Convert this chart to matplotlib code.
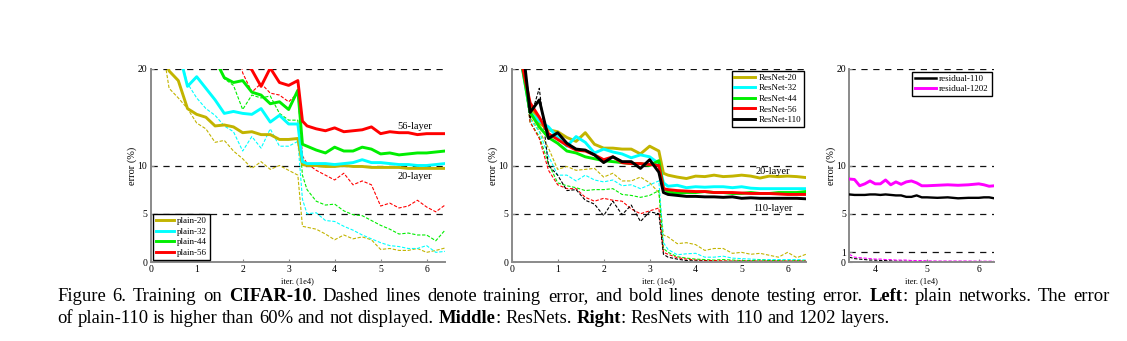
import matplotlib
matplotlib.use("Agg")
import matplotlib.pyplot as plt
from matplotlib.lines import Line2D

plt.rcParams['font.family'] = ['Liberation Serif', 'DejaVu Serif']

# ---------------- data ----------------
ITER = [0.2, 0.4, 0.6, 0.8, 1.0, 1.2, 1.4, 1.6, 1.8, 2.0, 2.2, 2.4, 2.6, 2.8, 3.0, 3.2,
        3.3, 3.4, 3.6, 3.8, 4.0, 4.2, 4.4, 4.6, 4.8, 5.0, 5.2, 5.4, 5.6, 5.8, 6.0, 6.2, 6.4]

# Left: plain networks (test = bold, train = dashed)
plain20_test = [23, 19.8, 18.8, 15.9, 15.3, 15.0, 14.1, 14.2, 14.0, 13.4, 13.5, 13.2, 13.2, 12.7, 12.7, 12.8,
                10.1, 10.0, 10.0, 9.9, 9.9, 10.0, 9.9, 9.9, 9.8, 9.8, 9.8, 9.8, 9.7, 9.7, 9.7, 9.7, 9.7]
plain20_train = [24, 18.0, 17.0, 15.9, 14.4, 13.8, 12.4, 12.6, 11.5, 10.7, 9.7, 10.4, 9.6, 10.0, 9.5, 9.0,
                 3.7, 3.6, 3.4, 2.9, 2.3, 2.8, 2.4, 2.6, 2.3, 1.3, 1.4, 1.2, 1.2, 1.4, 1.0, 1.2, 1.45]
plain32_test = [30, 26, 22, 18.2, 19.2, 18.0, 16.8, 15.4, 15.6, 15.4, 15.3, 15.9, 14.5, 15.2, 14.3, 14.3,
                10.4, 10.2, 10.2, 10.2, 10.1, 10.2, 10.3, 10.6, 10.3, 10.3, 10.2, 10.1, 10.1, 10.0, 10.0, 10.1, 10.2]
plain32_train = [30, 26, 22, 18.5, 17.0, 15.9, 15.2, 14.1, 13.5, 11.5, 13.0, 11.8, 13.8, 12.0, 12.0, 12.5,
                 6.5, 5.0, 5.1, 4.3, 4.2, 3.7, 3.3, 2.8, 2.4, 2.0, 1.7, 1.6, 1.4, 1.4, 1.7, 1.0, 1.1]
plain44_test = [25, 25, 25, 25, 25, 24, 21, 19.1, 18.6, 18.8, 17.6, 17.3, 16.4, 16.6, 15.8, 17.8,
                12.2, 12.0, 11.6, 11.3, 11.9, 11.5, 11.5, 11.9, 11.7, 11.2, 11.3, 11.1, 11.2, 11.3, 11.3, 11.4, 11.5]
plain44_train = [25, 25, 25, 25, 25, 24, 22, 19.0, 18.3, 15.8, 17.3, 17.0, 17.2, 15.4, 14.7, 14.7,
                 9.0, 7.5, 6.3, 5.9, 6.0, 5.3, 4.9, 4.8, 4.3, 3.8, 3.4, 2.9, 3.0, 2.8, 2.8, 2.2, 3.3]
plain56_test = [25, 25, 25, 25, 25, 25, 25, 25, 25, 21, 19.9, 18.2, 20.1, 18.6, 18.3, 18.8,
                14.6, 14.1, 13.8, 13.6, 13.9, 13.5, 13.6, 13.7, 14.0, 13.3, 13.5, 13.4, 13.4, 13.2, 13.3, 13.3, 13.3]
plain56_train = [25, 25, 25, 25, 25, 25, 25, 25, 25, 19.6, 17.6, 18.5, 17.5, 17.3, 16.6, 17.5,
                 11.0, 10.2, 9.5, 9.0, 8.5, 9.2, 8.0, 8.4, 8.0, 5.8, 6.1, 5.6, 5.8, 6.4, 5.7, 5.2, 5.9]

# Middle: ResNets
res20_test = [21, 16.2, 14.4, 13.7, 13.5, 12.9, 12.5, 13.4, 12.2, 11.8, 11.8, 11.7, 11.7, 11.2, 12.0, 11.5,
              9.2, 9.0, 8.8, 8.65, 8.9, 8.85, 9.0, 8.85, 8.9, 9.0, 8.9, 8.7, 8.9, 8.85, 8.9, 8.85, 8.75]
res32_test = [21, 15.5, 14.6, 14.0, 12.9, 12.0, 13.0, 12.4, 11.3, 11.7, 11.4, 11.2, 10.8, 11.1, 10.9, 10.2,
              8.2, 7.85, 7.95, 7.7, 7.8, 7.75, 7.8, 7.8, 7.7, 7.8, 7.65, 7.6, 7.6, 7.6, 7.6, 7.6, 7.6]
res44_test = [21, 15.5, 14.0, 12.9, 12.3, 11.5, 11.3, 10.9, 10.7, 10.5, 10.4, 10.3, 10.2, 10.2, 10.0, 10.5,
              7.6, 7.3, 7.1, 7.2, 7.2, 7.3, 7.2, 7.2, 7.1, 7.1, 7.2, 7.1, 7.1, 7.2, 7.2, 7.2, 7.3]
res56_test = [21, 16.5, 15.0, 13.3, 12.7, 12.1, 11.6, 11.5, 11.1, 10.6, 10.9, 10.3, 10.2, 10.2, 10.1, 10.0,
              7.6, 7.5, 7.4, 7.35, 7.3, 7.3, 7.2, 7.2, 7.2, 7.15, 7.1, 7.1, 7.1, 7.05, 7.0, 7.0, 7.0]
res110_test = [24, 15.5, 16.8, 12.8, 13.4, 12.3, 11.7, 11.6, 11.1, 10.3, 10.9, 10.4, 10.4, 9.7, 10.6, 9.3,
               7.2, 7.0, 6.9, 6.8, 6.8, 6.75, 6.75, 6.7, 6.75, 6.6, 6.65, 6.6, 6.6, 6.6, 6.6, 6.6, 6.55]
res20_train = [22, 15.0, 13.6, 11.8, 9.6, 9.9, 9.5, 9.6, 9.7, 8.8, 9.2, 8.4, 8.4, 8.8, 8.2, 7.2,
               2.8, 2.6, 1.9, 2.0, 1.8, 1.2, 1.4, 1.4, 0.9, 1.0, 0.8, 0.9, 0.7, 0.5, 1.0, 0.45, 0.8]
res32_train = [22, 14.8, 13.5, 11.0, 9.0, 9.0, 8.4, 9.0, 8.5, 8.3, 8.5, 7.9, 8.0, 7.6, 8.0, 8.4,
               2.0, 1.3, 0.75, 0.85, 0.9, 0.5, 0.5, 0.6, 0.4, 0.35, 0.3, 0.25, 0.25, 0.25, 0.25, 0.25, 0.2]
res44_train = [22, 14.5, 13.0, 10.2, 8.2, 7.9, 7.7, 7.4, 7.5, 7.5, 7.6, 7.0, 6.9, 6.7, 6.9, 7.4,
               1.4, 1.0, 0.55, 0.4, 0.3, 0.25, 0.2, 0.25, 0.2, 0.15, 0.15, 0.2, 0.15, 0.15, 0.1, 0.15, 0.1]
res56_train = [22, 14.5, 12.8, 9.5, 8.0, 7.6, 7.6, 6.7, 6.3, 6.6, 6.4, 6.3, 5.5, 5.0, 5.3, 5.6,
               1.0, 0.8, 0.45, 0.3, 0.2, 0.15, 0.15, 0.12, 0.1, 0.1, 0.1, 0.1, 0.1, 0.1, 0.1, 0.1, 0.1]
res110_train = [24, 14.8, 18.0, 10.0, 9.0, 7.4, 7.5, 6.4, 6.0, 4.8, 6.3, 4.9, 5.9, 4.2, 5.2, 5.0,
                0.8, 0.5, 0.3, 0.15, 0.1, 0.08, 0.05, 0.05, 0.05, 0.05, 0.05, 0.05, 0.05, 0.05, 0.05, 0.05, 0.05]

# Right: residual-110 vs residual-1202
ITER_R = [3.5, 3.6, 3.7, 3.8, 3.9, 4.0, 4.1, 4.2, 4.3, 4.4, 4.5, 4.6, 4.7, 4.8, 4.9, 5.0,
          5.2, 5.4, 5.6, 5.8, 6.0, 6.1, 6.2, 6.3]
r110_test = [7.0, 6.95, 6.95, 6.95, 7.0, 7.0, 6.95, 7.0, 6.95, 6.9, 6.9, 6.75, 6.75, 6.9, 6.7, 6.7,
             6.65, 6.7, 6.6, 6.65, 6.65, 6.7, 6.7, 6.6]
r1202_test = [8.6, 8.55, 7.9, 8.1, 8.4, 8.1, 8.1, 8.5, 8.0, 8.3, 8.05, 8.3, 8.4, 8.2, 7.9, 7.9,
              7.95, 8.0, 7.95, 8.0, 8.1, 8.0, 7.85, 7.9]
r110_train = [0.5, 0.35, 0.3, 0.25, 0.2, 0.2, 0.15, 0.15, 0.12, 0.1, 0.1, 0.08, 0.08, 0.06, 0.06, 0.05,
              0.05, 0.05, 0.05, 0.05, 0.05, 0.05, 0.05, 0.05]
r1202_train = [0.8, 0.5, 0.45, 0.4, 0.35, 0.3, 0.3, 0.25, 0.25, 0.2, 0.2, 0.2, 0.15, 0.15, 0.15, 0.12,
               0.1, 0.1, 0.1, 0.1, 0.08, 0.08, 0.08, 0.08]

PLAIN_LABELS = ['plain-20', 'plain-32', 'plain-44', 'plain-56']
RES_LABELS = ['ResNet-20', 'ResNet-32', 'ResNet-44', 'ResNet-56', 'ResNet-110']
RIGHT_LABELS = ['residual-110', 'residual-1202']
YTICKS = [0, 5, 10, 20]
YTICKS_R = [0, 1, 5, 10, 20]
REF_LEVELS = [5, 10, 20]
REF_LEVELS_R = [1, 5, 10, 20]

# ---------------- style ----------------
OLIVE, CYAN, GREEN, RED, BLACK, MAGENTA = '#C2B400', '#00FFFF', '#00EE00', '#FF0000', '#000000', '#FF00FF'
BOLD_LW = 2.1
THIN_LW = 0.8
THIN_DASH = (3, 1.5)
SPINE_C = '#8a8a8a'

fig = plt.figure(figsize=(11.27, 3.41), dpi=100)
W, H = 1127.0, 341.0

def make_ax(left_px, right_px, xlim, xticks, yticks, levels):
    ax = fig.add_axes([left_px / W, (H - 262) / H, (right_px - left_px) / W, (262 - 69) / H])
    ax.set_xlim(*xlim)
    ax.set_ylim(0, 20)
    for s in ['top', 'right']:
        ax.spines[s].set_visible(False)
    for s in ['left', 'bottom']:
        ax.spines[s].set_color(SPINE_C)
        ax.spines[s].set_linewidth(1.4)
    ax.set_xticks(xticks)
    ax.set_yticks(yticks)
    ax.tick_params(direction='in', length=2.5, width=0.8, color=SPINE_C, labelsize=7, pad=2.5)
    for lv in levels:
        ax.axhline(lv, color='#111111', lw=0.9, dashes=(5, 4.5), zorder=1)
    ax.set_ylabel('error (%)', fontsize=7.5, labelpad=0)
    ax.set_xlabel('iter. (1e4)', fontsize=6, labelpad=2)
    return ax

# Left
axL = make_ax(150.7, 445.0, (0, 6.4), [0, 1, 2, 3, 4, 5, 6], YTICKS, REF_LEVELS)
plain_cols = [OLIVE, CYAN, GREEN, RED]
plain_train = [plain20_train, plain32_train, plain44_train, plain56_train]
plain_test = [plain20_test, plain32_test, plain44_test, plain56_test]
for tr, c in zip(plain_train, plain_cols):
    axL.plot(ITER, tr, color=c, lw=THIN_LW, dashes=THIN_DASH, zorder=2)
for te, c in zip(plain_test, plain_cols):
    axL.plot(ITER, te, color=c, lw=BOLD_LW, zorder=3)
axL.text(5.75, 14.0, '56-layer', fontsize=7.5, ha='center', va='center', zorder=4)
axL.text(5.75, 8.85, '20-layer', fontsize=7.5, ha='center', va='center', zorder=4)
handles = [Line2D([], [], color=c, lw=BOLD_LW) for c in plain_cols]
leg = axL.legend(handles, PLAIN_LABELS, loc='lower left', fontsize=6.5, fancybox=False,
                 edgecolor='black', framealpha=1, borderpad=0.3, labelspacing=0.25,
                 handlelength=2.0, handletextpad=0.4, borderaxespad=0.25)
leg.get_frame().set_linewidth(1.0)

# Middle
axM = make_ax(511.7, 806.0, (0, 6.4), [0, 1, 2, 3, 4, 5, 6], YTICKS, REF_LEVELS)
res_cols = [OLIVE, CYAN, GREEN, RED, BLACK]
res_train = [res20_train, res32_train, res44_train, res56_train, res110_train]
res_test = [res20_test, res32_test, res44_test, res56_test, res110_test]
for tr, c in zip(res_train, res_cols):
    axM.plot(ITER, tr, color=c, lw=THIN_LW, dashes=THIN_DASH, zorder=2)
for te, c in zip(res_test, res_cols):
    axM.plot(ITER, te, color=c, lw=BOLD_LW, zorder=3)
axM.text(5.68, 9.4, '20-layer', fontsize=7.5, ha='center', va='center', zorder=4)
axM.text(5.68, 5.5, '110-layer', fontsize=7.5, ha='center', va='center', zorder=4)
handles = [Line2D([], [], color=c, lw=BOLD_LW) for c in res_cols]
leg = axM.legend(handles, RES_LABELS, loc='upper right', fontsize=6.5, fancybox=False,
                 edgecolor='black', framealpha=1, borderpad=0.3, labelspacing=0.25,
                 handlelength=2.3, handletextpad=0.4, borderaxespad=0.2)
leg.get_frame().set_linewidth(1.0)

# Right
axR = make_ax(849.3, 994.3, (3.5, 6.3), [4, 5, 6], YTICKS_R, REF_LEVELS_R)
axR.plot(ITER_R, r110_train, color=BLACK, lw=THIN_LW, dashes=THIN_DASH, zorder=2)
axR.plot(ITER_R, r1202_train, color=MAGENTA, lw=THIN_LW, dashes=THIN_DASH, zorder=2)
axR.plot(ITER_R, r110_test, color=BLACK, lw=1.7, zorder=3)
axR.plot(ITER_R, r1202_test, color=MAGENTA, lw=BOLD_LW, zorder=3)
handles = [Line2D([], [], color=BLACK, lw=1.8), Line2D([], [], color=MAGENTA, lw=BOLD_LW)]
leg = axR.legend(handles, RIGHT_LABELS, loc='upper right', fontsize=6.5, fancybox=False,
                 edgecolor='black', framealpha=1, borderpad=0.3, labelspacing=0.25,
                 handlelength=2.3, handletextpad=0.4, borderaxespad=0.3)
leg.get_frame().set_linewidth(1.0)

# ---------------- caption (justified first line) ----------------
LINE1 = [("Figure 6. Training on ", False), ("CIFAR-10", True),
         (". Dashed lines denote training error, and bold lines denote testing error. ", False),
         ("Left", True), (": plain networks. The error", False)]
LINE2 = [("of plain-110 is higher than 60% and not displayed. ", False), ("Middle", True),
         (": ResNets. ", False), ("Right", True), (": ResNets with 110 and 1202 layers.", False)]

renderer = fig.canvas.get_renderer()

def width_px(s, size, bold):
    t = fig.text(0, 0, s, fontsize=size, fontweight='bold' if bold else 'normal')
    w = t.get_window_extent(renderer).width
    t.remove()
    return w

def to_words(parts):
    words, cur = [], []
    for s, b in parts:
        pieces = s.split(' ')
        for i, p in enumerate(pieces):
            if i > 0:
                if cur:
                    words.append(cur)
                cur = []
            if p:
                cur.append((p, b))
    if cur:
        words.append(cur)
    return words

def word_w(word, size):
    return sum(width_px(p, size, b) for p, b in word)

def natural_width(parts, size):
    sp = width_px('x x', size, False) - width_px('xx', size, False)
    words = to_words(parts)
    return sum(word_w(w, size) for w in words) + sp * (len(words) - 1)

def draw_line(parts, x0, base_px, size, right=None):
    words = to_words(parts)
    sp = width_px('x x', size, False) - width_px('xx', size, False)
    if right is not None:
        total = sum(word_w(w, size) for w in words)
        sp = (right - x0 - total) / (len(words) - 1)
    x = x0
    for w in words:
        for p, b in w:
            t = fig.text(x / W, (H - base_px) / H, p, fontsize=size,
                         fontweight='bold' if b else 'normal', va='baseline', ha='left')
            x += t.get_window_extent(renderer).width
        x += sp

size0 = 12.0
w2 = natural_width(LINE2, size0)
cap_size = size0 * (889 - 57) / w2
draw_line(LINE1, 57, 301, cap_size, right=1110)
draw_line(LINE2, 57, 323, cap_size)

fig.savefig('out.png', dpi=100)
